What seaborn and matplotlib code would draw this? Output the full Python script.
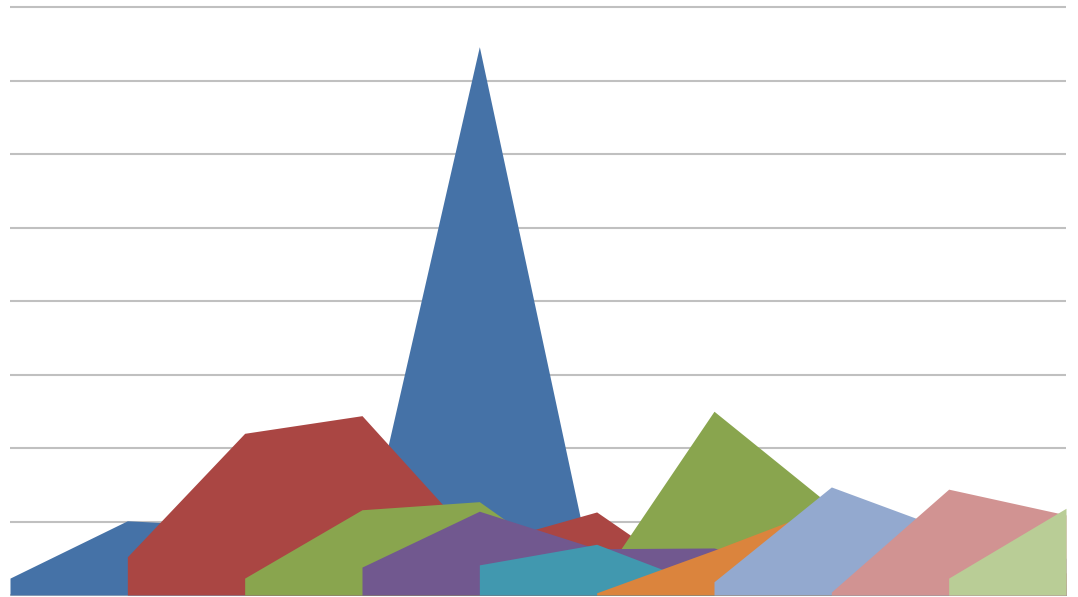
import numpy as np
import matplotlib
matplotlib.use('Agg')
import matplotlib.pyplot as plt
import seaborn as sns

# Ten category positions, nine overlapping (non-stacked) area series
categories = list(range(10))
series_start = [0, 1, 2, 3, 4, 5, 6, 7, 8]

blue = [2.3, 10.1, 9.3, 4.8, 74.6, 0.1, 1.5, 2.0, 1.0, 1.5]
red = [5.2, 22.0, 24.4, 6.8, 11.3, 0.3, 1.0, 2.0, 1.0]
green = [2.3, 11.6, 12.7, 1.4, 25.0, 12.1, 5.0, 3.0]
purple = [3.8, 11.4, 6.3, 6.4, 2.0, 1.0, 0.5]
teal = [4.1, 6.9, 0.8, 1.0, 0.5, 0.5]
orange = [0.3, 6.1, 12.2, 4.0, 3.0]
light_blue = [1.8, 14.7, 8.8, 5.0]
pink = [0.4, 14.4, 10.9]
light_green = [2.3, 11.8]

series = [blue, red, green, purple, teal, orange, light_blue, pink, light_green]
colors = ['#4572A7', '#AA4643', '#89A54E', '#71588F', '#4198AF',
          '#DB843D', '#93A9CF', '#D19392', '#B9CD96']

sns.set_style('white')

fig = plt.figure(figsize=(10.78, 5.97), dpi=100)
ax = fig.add_axes([0, 0, 1, 1])

# horizontal gridlines behind the areas, spanning only the category range
ax.hlines(range(0, 90, 10), categories[0], categories[-1],
          color='#C0C0C0', linewidth=1.5, zorder=0)

for start, values, color in zip(series_start, series, colors):
    xs = categories[start:start + len(values)]
    ax.fill_between(xs, 0, values, color=color, linewidth=0, zorder=2)

ax.set_xlim(-10 / 117.33, 9 + 12 / 117.33)
ax.set_ylim(-2 * 80 / 588, 80 + 7 * 80 / 588)
ax.set_xticks([])
ax.set_yticks([])
for spine in ax.spines.values():
    spine.set_visible(False)

fig.savefig('out.png', dpi=100)
